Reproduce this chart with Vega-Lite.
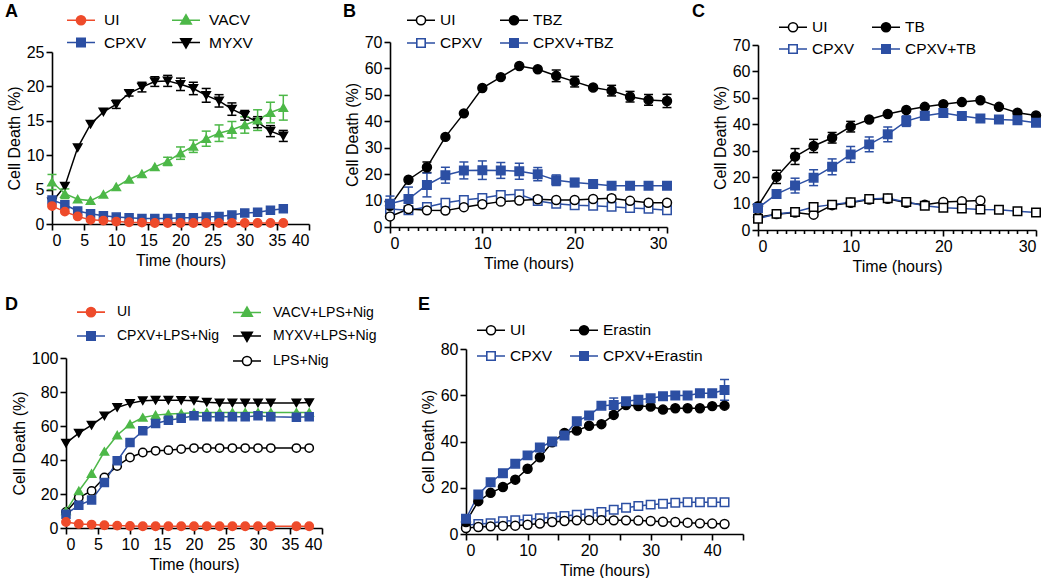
{
  "$schema": "https://vega.github.io/schema/vega-lite/v6.json",
  "padding": {"left": 5, "top": 3, "right": 0, "bottom": 0},
  "config": {
    "font": "Liberation Sans",
    "view": {"stroke": null},
    "axis": {"domainColor": "black", "domainWidth": 1.6, "tickColor": "black", "tickWidth": 1.6, "tickSize": 6, "labelFontSize": 16, "labelColor": "black", "labelFont": "Liberation Sans", "titleFontSize": 16, "titleFontWeight": "normal", "titleColor": "black", "titleFont": "Liberation Sans", "grid": false, "labelPadding": 2, "titlePadding": 4},
    "legend": {"labelFontSize": 15.5, "labelColor": "black", "labelFont": "Liberation Sans", "padding": 0, "symbolStrokeWidth": 1.6, "symbolSize": 196},
    "title": {"fontSize": 18, "fontWeight": "bold", "anchor": "start", "frame": "group", "color": "black", "font": "Liberation Sans"}
  },
  "resolve": {"scale": {"color": "independent", "shape": "independent", "fill": "independent", "stroke": "independent"}, "legend": {"shape": "independent", "fill": "independent", "stroke": "independent"}},
  "spacing": 22,
  "vconcat": [
    {
      "spacing": 17,
      "resolve": {"scale": {"color": "independent", "shape": "independent", "fill": "independent", "stroke": "independent"}, "legend": {"shape": "independent", "fill": "independent", "stroke": "independent"}},
      "hconcat": [
        {
          "title": {"text": "A", "dx": -61, "dy": 9, "offset": 0},
          "width": 260, "height": 182,
          "data": {"values": [
            {"t":0,"g":"MYXV","y":3.2},{"t":2,"g":"MYXV","y":5.5},{"t":4,"g":"MYXV","y":11.1},{"t":6,"g":"MYXV","y":14.5},{"t":8,"g":"MYXV","y":16.3},{"t":10,"g":"MYXV","y":17.4,"lo":16.8,"hi":18.0},{"t":12,"g":"MYXV","y":19.0,"lo":18.6,"hi":19.4},{"t":14,"g":"MYXV","y":19.9,"lo":19.2,"hi":20.6},{"t":16,"g":"MYXV","y":20.7,"lo":20.0,"hi":21.4},{"t":18,"g":"MYXV","y":20.8,"lo":20.0,"hi":21.6},{"t":20,"g":"MYXV","y":20.3,"lo":19.4,"hi":21.2},{"t":22,"g":"MYXV","y":19.7,"lo":18.8,"hi":20.6},{"t":24,"g":"MYXV","y":18.7,"lo":17.7,"hi":19.7},{"t":26,"g":"MYXV","y":17.9,"lo":17.0,"hi":18.8},{"t":28,"g":"MYXV","y":16.7,"lo":15.8,"hi":17.6},{"t":30,"g":"MYXV","y":15.8,"lo":15.1,"hi":16.5},{"t":32,"g":"MYXV","y":14.8,"lo":14.0,"hi":15.6},{"t":34,"g":"MYXV","y":13.5,"lo":12.7,"hi":14.3},{"t":36,"g":"MYXV","y":12.8,"lo":12.0,"hi":13.6},
            {"t":0,"g":"VACV","y":6.1,"lo":5.0,"hi":7.2},{"t":2,"g":"VACV","y":4.4,"lo":3.7,"hi":5.1},{"t":4,"g":"VACV","y":3.6},{"t":6,"g":"VACV","y":3.4},{"t":8,"g":"VACV","y":4.3},{"t":10,"g":"VACV","y":5.4},{"t":12,"g":"VACV","y":6.5},{"t":14,"g":"VACV","y":7.3},{"t":16,"g":"VACV","y":8.3},{"t":18,"g":"VACV","y":9.1,"lo":8.5,"hi":9.7},{"t":20,"g":"VACV","y":10.3,"lo":9.4,"hi":11.2},{"t":22,"g":"VACV","y":11.3,"lo":10.4,"hi":12.2},{"t":24,"g":"VACV","y":12.4,"lo":11.3,"hi":13.5},{"t":26,"g":"VACV","y":13.2,"lo":12.0,"hi":14.4},{"t":28,"g":"VACV","y":13.7,"lo":12.5,"hi":14.9},{"t":30,"g":"VACV","y":14.4,"lo":13.2,"hi":15.6},{"t":32,"g":"VACV","y":15.1,"lo":13.6,"hi":16.6},{"t":34,"g":"VACV","y":16.2,"lo":14.7,"hi":17.7},{"t":36,"g":"VACV","y":16.9,"lo":15.1,"hi":18.7},
            {"t":0,"g":"CPXV","y":3.5},{"t":2,"g":"CPXV","y":2.8},{"t":4,"g":"CPXV","y":1.9},{"t":6,"g":"CPXV","y":1.5},{"t":8,"g":"CPXV","y":1.2},{"t":10,"g":"CPXV","y":1.0},{"t":12,"g":"CPXV","y":0.9},{"t":14,"g":"CPXV","y":0.8},{"t":16,"g":"CPXV","y":0.8},{"t":18,"g":"CPXV","y":0.8},{"t":20,"g":"CPXV","y":0.9},{"t":22,"g":"CPXV","y":0.9},{"t":24,"g":"CPXV","y":1.0},{"t":26,"g":"CPXV","y":1.1},{"t":28,"g":"CPXV","y":1.3},{"t":30,"g":"CPXV","y":1.6},{"t":32,"g":"CPXV","y":1.7},{"t":34,"g":"CPXV","y":2.0},{"t":36,"g":"CPXV","y":2.2},
            {"t":0,"g":"UI","y":2.6},{"t":2,"g":"UI","y":1.8},{"t":4,"g":"UI","y":1.1},{"t":6,"g":"UI","y":0.6},{"t":8,"g":"UI","y":0.5},{"t":10,"g":"UI","y":0.35},{"t":12,"g":"UI","y":0.25},{"t":14,"g":"UI","y":0.2},{"t":16,"g":"UI","y":0.15},{"t":18,"g":"UI","y":0.15},{"t":20,"g":"UI","y":0.15},{"t":22,"g":"UI","y":0.15},{"t":24,"g":"UI","y":0.15},{"t":26,"g":"UI","y":0.15},{"t":28,"g":"UI","y":0.15},{"t":30,"g":"UI","y":0.15},{"t":32,"g":"UI","y":0.15},{"t":34,"g":"UI","y":0.15},{"t":36,"g":"UI","y":0.15}
          ]},
          "encoding": {
            "x": {"field": "t", "type": "quantitative", "scale": {"domain": [0, 40], "range": [-14, 243], "nice": false}, "axis": {"values": [0,5,10,15,20,25,30,35,40], "title": "Time (hours)"}},
            "y": {"field": "y", "type": "quantitative", "scale": {"domain": [0, 25], "range": [182, 10], "nice": false}, "axis": {"values": [0,5,10,15,20,25], "offset": 14, "title": "Cell Death (%)"}}
          },
          "layer": [
            {"mark": {"type": "line", "strokeWidth": 1.5}, "encoding": {"color": {"field": "g", "type": "nominal", "scale": {"domain": ["MYXV","VACV","CPXV","UI"], "range": ["black","#4DB848","#2C4FA3","#EE4B2B"]}, "legend": null}}},
            {"transform": [{"filter": "isValid(datum.lo)"}], "mark": {"type": "rule", "strokeWidth": 1.5}, "encoding": {"y": {"field": "lo", "type": "quantitative", "scale": {"domain": [0, 25], "range": [182, 10], "nice": false}, "axis": {"values": [0,5,10,15,20,25], "offset": 14, "title": "Cell Death (%)"}}, "y2": {"field": "hi"}, "color": {"field": "g", "type": "nominal", "scale": {"domain": ["MYXV","VACV","CPXV","UI"], "range": ["black","#4DB848","#2C4FA3","#EE4B2B"]}, "legend": null}}},
            {"transform": [{"filter": "isValid(datum.lo)"}], "mark": {"type": "tick", "orient": "horizontal", "size": 9, "thickness": 1.5, "opacity": 1}, "encoding": {"y": {"field": "lo", "type": "quantitative", "scale": {"domain": [0, 25], "range": [182, 10], "nice": false}, "axis": {"values": [0,5,10,15,20,25], "offset": 14, "title": "Cell Death (%)"}}, "color": {"field": "g", "type": "nominal", "scale": {"domain": ["MYXV","VACV","CPXV","UI"], "range": ["black","#4DB848","#2C4FA3","#EE4B2B"]}, "legend": null}}},
            {"transform": [{"filter": "isValid(datum.lo)"}], "mark": {"type": "tick", "orient": "horizontal", "size": 9, "thickness": 1.5, "opacity": 1}, "encoding": {"y": {"field": "hi", "type": "quantitative", "scale": {"domain": [0, 25], "range": [182, 10], "nice": false}, "axis": {"values": [0,5,10,15,20,25], "offset": 14, "title": "Cell Death (%)"}}, "color": {"field": "g", "type": "nominal", "scale": {"domain": ["MYXV","VACV","CPXV","UI"], "range": ["black","#4DB848","#2C4FA3","#EE4B2B"]}, "legend": null}}},
            {"transform": [{"filter": "datum.g === 'MYXV'"}], "mark": {"type": "point", "shape": "triangle-down", "filled": true, "fill": "black", "stroke": "black", "size": 70, "strokeWidth": 1.5, "opacity": 1}},
            {"transform": [{"filter": "datum.g === 'VACV'"}], "mark": {"type": "point", "shape": "triangle-up", "filled": true, "fill": "#4DB848", "stroke": "#4DB848", "size": 70, "strokeWidth": 1.5, "opacity": 1}},
            {"transform": [{"filter": "datum.g === 'CPXV'"}], "mark": {"type": "point", "shape": "square", "filled": true, "fill": "#2C4FA3", "stroke": "#2C4FA3", "size": 64, "strokeWidth": 1.5, "opacity": 1}},
            {"transform": [{"filter": "datum.g === 'UI'"}], "mark": {"type": "point", "shape": "circle", "filled": true, "fill": "#EE4B2B", "stroke": "#EE4B2B", "size": 70, "strokeWidth": 1.5, "opacity": 1}},
            {"transform": [{"filter": "false"}], "mark": {"type": "point", "filled": true, "opacity": 1, "strokeWidth": 1.6},
             "encoding": {
               "shape": {"field": "g", "type": "nominal", "scale": {"domain": ["UI","CPXV","VACV","MYXV"], "range": ["M-2,0H-0.65M0.65,0H2M-0.65,0A0.65,0.65,0,1,0,0.65,0A0.65,0.65,0,1,0,-0.65,0Z","M-2,0H-0.6M0.6,0H2M-0.6,-0.6H0.6V0.6H-0.6Z","M-2,0H-0.45M0.45,0H2M0,-0.78L0.75,0.52H-0.75Z","M-2,0H-0.45M0.45,0H2M0,0.78L0.75,-0.52H-0.75Z"]},
                 "legend": {"title": null, "orient": "none", "legendX": 7, "legendY": -30, "columns": 2, "columnPadding": 21, "rowPadding": 5.5, "labelOffset": 15, "symbolSize": 196, "symbolStrokeWidth": 1.6, "symbolOpacity": 1}},
               "fill": {"field": "g", "type": "nominal", "scale": {"domain": ["UI","CPXV","VACV","MYXV"], "range": ["#EE4B2B","#2C4FA3","#4DB848","black"]},
                 "legend": {"title": null, "orient": "none", "legendX": 7, "legendY": -30, "columns": 2, "columnPadding": 21, "rowPadding": 5.5, "labelOffset": 15, "symbolSize": 196, "symbolStrokeWidth": 1.6, "symbolOpacity": 1}},
               "stroke": {"field": "g", "type": "nominal", "scale": {"domain": ["UI","CPXV","VACV","MYXV"], "range": ["#EE4B2B","#2C4FA3","#4DB848","black"]},
                 "legend": {"title": null, "orient": "none", "legendX": 7, "legendY": -30, "columns": 2, "columnPadding": 21, "rowPadding": 5.5, "labelOffset": 15, "symbolSize": 196, "symbolStrokeWidth": 1.6, "symbolOpacity": 1}}
             }}
          ]
        },
        {
          "title": {"text": "B", "dx": -47, "dy": 9, "offset": 0},
          "width": 277, "height": 185,
          "data": {"values": [
            {"t":0,"g":"CPXV","y":6.8},{"t":2,"g":"CPXV","y":6.3},{"t":4,"g":"CPXV","y":7.6},{"t":6,"g":"CPXV","y":9.2},{"t":8,"g":"CPXV","y":10.2},{"t":10,"g":"CPXV","y":11.0},{"t":12,"g":"CPXV","y":12.1},{"t":14,"g":"CPXV","y":12.4},{"t":16,"g":"CPXV","y":9.8},{"t":18,"g":"CPXV","y":8.8},{"t":20,"g":"CPXV","y":8.2},{"t":22,"g":"CPXV","y":8.0},{"t":24,"g":"CPXV","y":7.7},{"t":26,"g":"CPXV","y":7.2},{"t":28,"g":"CPXV","y":6.9},{"t":30,"g":"CPXV","y":6.3},
            {"t":0,"g":"UI","y":4.0},{"t":2,"g":"UI","y":6.8},{"t":4,"g":"UI","y":6.3},{"t":6,"g":"UI","y":6.2},{"t":8,"g":"UI","y":7.5},{"t":10,"g":"UI","y":8.6},{"t":12,"g":"UI","y":9.6},{"t":14,"g":"UI","y":10.0},{"t":16,"g":"UI","y":10.5},{"t":18,"g":"UI","y":10.2},{"t":20,"g":"UI","y":10.2},{"t":22,"g":"UI","y":10.6},{"t":24,"g":"UI","y":10.9,"lo":9.9,"hi":11.9},{"t":26,"g":"UI","y":9.9},{"t":28,"g":"UI","y":9.2},{"t":30,"g":"UI","y":9.2},
            {"t":0,"g":"TBZ","y":8.0},{"t":2,"g":"TBZ","y":17.9},{"t":4,"g":"TBZ","y":22.6,"lo":20.6,"hi":24.6},{"t":6,"g":"TBZ","y":34.1},{"t":8,"g":"TBZ","y":43.0},{"t":10,"g":"TBZ","y":52.6},{"t":12,"g":"TBZ","y":56.7},{"t":14,"g":"TBZ","y":60.9},{"t":16,"g":"TBZ","y":59.7},{"t":18,"g":"TBZ","y":57.2,"lo":55.0,"hi":59.4},{"t":20,"g":"TBZ","y":55.0,"lo":53.0,"hi":57.0},{"t":22,"g":"TBZ","y":52.8},{"t":24,"g":"TBZ","y":51.6,"lo":49.6,"hi":53.6},{"t":26,"g":"TBZ","y":49.3,"lo":47.3,"hi":51.3},{"t":28,"g":"TBZ","y":48.1,"lo":46.1,"hi":50.1},{"t":30,"g":"TBZ","y":47.7,"lo":45.2,"hi":50.2},
            {"t":0,"g":"CPXV+TBZ","y":8.8,"lo":5.9,"hi":11.7},{"t":2,"g":"CPXV+TBZ","y":10.6,"lo":6.1,"hi":15.1},{"t":4,"g":"CPXV+TBZ","y":15.9,"lo":11.4,"hi":20.4},{"t":6,"g":"CPXV+TBZ","y":19.6,"lo":16.6,"hi":22.6},{"t":8,"g":"CPXV+TBZ","y":21.4,"lo":18.2,"hi":24.6},{"t":10,"g":"CPXV+TBZ","y":21.5,"lo":18.0,"hi":25.0},{"t":12,"g":"CPXV+TBZ","y":21.4,"lo":18.4,"hi":24.4},{"t":14,"g":"CPXV+TBZ","y":21.1,"lo":18.1,"hi":24.1},{"t":16,"g":"CPXV+TBZ","y":20.0,"lo":17.5,"hi":22.5},{"t":18,"g":"CPXV+TBZ","y":17.7,"lo":15.7,"hi":19.7},{"t":20,"g":"CPXV+TBZ","y":16.8,"lo":15.3,"hi":18.3},{"t":22,"g":"CPXV+TBZ","y":16.3,"lo":15.3,"hi":17.3},{"t":24,"g":"CPXV+TBZ","y":15.6,"lo":14.6,"hi":16.6},{"t":26,"g":"CPXV+TBZ","y":15.6},{"t":28,"g":"CPXV+TBZ","y":15.6},{"t":30,"g":"CPXV+TBZ","y":15.6}
          ]},
          "encoding": {
            "x": {"field": "t", "type": "quantitative", "scale": {"domain": [0, 30], "nice": false}, "axis": {"values": [0,1,2,3,4,5,6,7,8,9,10,11,12,13,14,15,16,17,18,19,20,21,22,23,24,25,26,27,28,29,30], "labelExpr": "datum.value % 10 === 0 ? datum.label : ''", "tickSize": {"condition": {"test": "datum.value % 10 === 0", "value": 6}, "value": 3.5}, "title": "Time (hours)"}},
            "y": {"field": "y", "type": "quantitative", "scale": {"domain": [0, 70], "nice": false}, "axis": {"values": [0,10,20,30,40,50,60,70], "title": "Cell Death (%)"}}
          },
          "layer": [
            {"mark": {"type": "line", "strokeWidth": 1.5}, "encoding": {"color": {"field": "g", "type": "nominal", "scale": {"domain": ["CPXV+TBZ","TBZ","CPXV","UI"], "range": ["#2C4FA3","black","#2C4FA3","black"]}, "legend": null}}},
            {"transform": [{"filter": "isValid(datum.lo)"}], "mark": {"type": "rule", "strokeWidth": 1.5}, "encoding": {"y": {"field": "lo", "type": "quantitative", "scale": {"domain": [0, 70], "nice": false}, "axis": {"values": [0,10,20,30,40,50,60,70], "title": "Cell Death (%)"}}, "y2": {"field": "hi"}, "color": {"field": "g", "type": "nominal", "scale": {"domain": ["CPXV+TBZ","TBZ","CPXV","UI"], "range": ["#2C4FA3","black","#2C4FA3","black"]}, "legend": null}}},
            {"transform": [{"filter": "isValid(datum.lo)"}], "mark": {"type": "tick", "orient": "horizontal", "size": 9, "thickness": 1.5, "opacity": 1}, "encoding": {"y": {"field": "lo", "type": "quantitative", "scale": {"domain": [0, 70], "nice": false}, "axis": {"values": [0,10,20,30,40,50,60,70], "title": "Cell Death (%)"}}, "color": {"field": "g", "type": "nominal", "scale": {"domain": ["CPXV+TBZ","TBZ","CPXV","UI"], "range": ["#2C4FA3","black","#2C4FA3","black"]}, "legend": null}}},
            {"transform": [{"filter": "isValid(datum.lo)"}], "mark": {"type": "tick", "orient": "horizontal", "size": 9, "thickness": 1.5, "opacity": 1}, "encoding": {"y": {"field": "hi", "type": "quantitative", "scale": {"domain": [0, 70], "nice": false}, "axis": {"values": [0,10,20,30,40,50,60,70], "title": "Cell Death (%)"}}, "color": {"field": "g", "type": "nominal", "scale": {"domain": ["CPXV+TBZ","TBZ","CPXV","UI"], "range": ["#2C4FA3","black","#2C4FA3","black"]}, "legend": null}}},
            {"transform": [{"filter": "datum.g === 'CPXV'"}], "mark": {"type": "point", "shape": "square", "filled": true, "fill": "white", "stroke": "#2C4FA3", "size": 72, "strokeWidth": 1.5, "opacity": 1}},
            {"transform": [{"filter": "datum.g === 'UI'"}], "mark": {"type": "point", "shape": "circle", "filled": true, "fill": "white", "stroke": "black", "size": 80, "strokeWidth": 1.5, "opacity": 1}},
            {"transform": [{"filter": "datum.g === 'TBZ'"}], "mark": {"type": "point", "shape": "circle", "filled": true, "fill": "black", "stroke": "black", "size": 80, "strokeWidth": 1.5, "opacity": 1}},
            {"transform": [{"filter": "datum.g === 'CPXV+TBZ'"}], "mark": {"type": "point", "shape": "square", "filled": true, "fill": "#2C4FA3", "stroke": "#2C4FA3", "size": 72, "strokeWidth": 1.5, "opacity": 1}},
            {"transform": [{"filter": "false"}], "mark": {"type": "point", "filled": true, "opacity": 1, "strokeWidth": 1.6},
             "encoding": {
               "shape": {"field": "g", "type": "nominal", "scale": {"domain": ["UI","CPXV","TBZ","CPXV+TBZ"], "range": ["M-2,0H-0.65M0.65,0H2M-0.65,0A0.65,0.65,0,1,0,0.65,0A0.65,0.65,0,1,0,-0.65,0Z","M-2,0H-0.6M0.6,0H2M-0.6,-0.6H0.6V0.6H-0.6Z","M-2,0H-0.65M0.65,0H2M-0.65,0A0.65,0.65,0,1,0,0.65,0A0.65,0.65,0,1,0,-0.65,0Z","M-2,0H-0.6M0.6,0H2M-0.6,-0.6H0.6V0.6H-0.6Z"]},
                 "legend": {"title": null, "orient": "none", "legendX": 23, "legendY": -30, "columns": 2, "columnPadding": 13, "rowPadding": 6, "labelOffset": 11, "symbolSize": 196, "symbolStrokeWidth": 1.6, "symbolOpacity": 1}},
               "fill": {"field": "g", "type": "nominal", "scale": {"domain": ["UI","CPXV","TBZ","CPXV+TBZ"], "range": ["white","white","black","#2C4FA3"]},
                 "legend": {"title": null, "orient": "none", "legendX": 23, "legendY": -30, "columns": 2, "columnPadding": 13, "rowPadding": 6, "labelOffset": 11, "symbolSize": 196, "symbolStrokeWidth": 1.6, "symbolOpacity": 1}},
               "stroke": {"field": "g", "type": "nominal", "scale": {"domain": ["UI","CPXV","TBZ","CPXV+TBZ"], "range": ["black","#2C4FA3","black","#2C4FA3"]},
                 "legend": {"title": null, "orient": "none", "legendX": 23, "legendY": -30, "columns": 2, "columnPadding": 13, "rowPadding": 6, "labelOffset": 11, "symbolSize": 196, "symbolStrokeWidth": 1.6, "symbolOpacity": 1}}
             }}
          ]
        },
        {
          "title": {"text": "C", "dx": -66, "dy": 2, "offset": 0},
          "width": 278, "height": 188,
          "data": {"values": [
            {"t":0,"g":"UI","y":4.8},{"t":2,"g":"UI","y":6.0},{"t":4,"g":"UI","y":6.6},{"t":6,"g":"UI","y":5.8},{"t":8,"g":"UI","y":9.4},{"t":10,"g":"UI","y":10.3},{"t":12,"g":"UI","y":11.5},{"t":14,"g":"UI","y":11.8},{"t":16,"g":"UI","y":10.3},{"t":18,"g":"UI","y":9.6},{"t":20,"g":"UI","y":10.6},{"t":22,"g":"UI","y":10.9},{"t":24,"g":"UI","y":11.2},
            {"t":0,"g":"CPXV","y":4.3},{"t":2,"g":"CPXV","y":6.1},{"t":4,"g":"CPXV","y":6.8},{"t":6,"g":"CPXV","y":8.7},{"t":8,"g":"CPXV","y":9.6},{"t":10,"g":"CPXV","y":10.5},{"t":12,"g":"CPXV","y":11.7},{"t":14,"g":"CPXV","y":12.0},{"t":16,"g":"CPXV","y":10.6},{"t":18,"g":"CPXV","y":9.2},{"t":20,"g":"CPXV","y":8.4},{"t":22,"g":"CPXV","y":8.1},{"t":24,"g":"CPXV","y":7.8},{"t":26,"g":"CPXV","y":7.7},{"t":28,"g":"CPXV","y":7.1},{"t":30,"g":"CPXV","y":6.6},
            {"t":0,"g":"TB","y":9.0},{"t":2,"g":"TB","y":20.1,"lo":17.6,"hi":22.6},{"t":4,"g":"TB","y":27.8,"lo":24.8,"hi":30.8},{"t":6,"g":"TB","y":31.8,"lo":29.3,"hi":34.3},{"t":8,"g":"TB","y":34.9,"lo":32.9,"hi":36.9},{"t":10,"g":"TB","y":39.1,"lo":37.1,"hi":41.1},{"t":12,"g":"TB","y":41.8},{"t":14,"g":"TB","y":43.9},{"t":16,"g":"TB","y":45.4},{"t":18,"g":"TB","y":46.6},{"t":20,"g":"TB","y":47.6},{"t":22,"g":"TB","y":48.4},{"t":24,"g":"TB","y":49.1},{"t":26,"g":"TB","y":46.6},{"t":28,"g":"TB","y":44.4},{"t":30,"g":"TB","y":43.3},
            {"t":0,"g":"CPXV+TB","y":8.3},{"t":2,"g":"CPXV+TB","y":13.6},{"t":4,"g":"CPXV+TB","y":16.8,"lo":14.0,"hi":19.6},{"t":6,"g":"CPXV+TB","y":19.8,"lo":16.8,"hi":22.8},{"t":8,"g":"CPXV+TB","y":23.9,"lo":20.9,"hi":26.9},{"t":10,"g":"CPXV+TB","y":28.6,"lo":25.6,"hi":31.6},{"t":12,"g":"CPXV+TB","y":32.4,"lo":29.6,"hi":35.2},{"t":14,"g":"CPXV+TB","y":36.2,"lo":33.4,"hi":39.0},{"t":16,"g":"CPXV+TB","y":41.2,"lo":39.2,"hi":43.2},{"t":18,"g":"CPXV+TB","y":43.2,"lo":41.7,"hi":44.7},{"t":20,"g":"CPXV+TB","y":44.3,"lo":42.8,"hi":45.8},{"t":22,"g":"CPXV+TB","y":43.1},{"t":24,"g":"CPXV+TB","y":42.2},{"t":26,"g":"CPXV+TB","y":41.8},{"t":28,"g":"CPXV+TB","y":41.5},{"t":30,"g":"CPXV+TB","y":40.6}
          ]},
          "encoding": {
            "x": {"field": "t", "type": "quantitative", "scale": {"domain": [0, 30], "nice": false}, "axis": {"values": [0,1,2,3,4,5,6,7,8,9,10,11,12,13,14,15,16,17,18,19,20,21,22,23,24,25,26,27,28,29,30], "labelExpr": "datum.value % 10 === 0 ? datum.label : ''", "tickSize": {"condition": {"test": "datum.value % 10 === 0", "value": 6}, "value": 3.5}, "title": "Time (hours)"}},
            "y": {"field": "y", "type": "quantitative", "scale": {"domain": [0, 70], "range": [188, 3], "nice": false}, "axis": {"values": [0,10,20,30,40,50,60,70], "title": "Cell Death (%)"}}
          },
          "layer": [
            {"mark": {"type": "line", "strokeWidth": 1.5}, "encoding": {"color": {"field": "g", "type": "nominal", "scale": {"domain": ["CPXV+TB","TB","CPXV","UI"], "range": ["#2C4FA3","black","#2C4FA3","black"]}, "legend": null}}},
            {"transform": [{"filter": "isValid(datum.lo)"}], "mark": {"type": "rule", "strokeWidth": 1.5}, "encoding": {"y": {"field": "lo", "type": "quantitative", "scale": {"domain": [0, 70], "range": [188, 3], "nice": false}, "axis": {"values": [0,10,20,30,40,50,60,70], "title": "Cell Death (%)"}}, "y2": {"field": "hi"}, "color": {"field": "g", "type": "nominal", "scale": {"domain": ["CPXV+TB","TB","CPXV","UI"], "range": ["#2C4FA3","black","#2C4FA3","black"]}, "legend": null}}},
            {"transform": [{"filter": "isValid(datum.lo)"}], "mark": {"type": "tick", "orient": "horizontal", "size": 9, "thickness": 1.5, "opacity": 1}, "encoding": {"y": {"field": "lo", "type": "quantitative", "scale": {"domain": [0, 70], "range": [188, 3], "nice": false}, "axis": {"values": [0,10,20,30,40,50,60,70], "title": "Cell Death (%)"}}, "color": {"field": "g", "type": "nominal", "scale": {"domain": ["CPXV+TB","TB","CPXV","UI"], "range": ["#2C4FA3","black","#2C4FA3","black"]}, "legend": null}}},
            {"transform": [{"filter": "isValid(datum.lo)"}], "mark": {"type": "tick", "orient": "horizontal", "size": 9, "thickness": 1.5, "opacity": 1}, "encoding": {"y": {"field": "hi", "type": "quantitative", "scale": {"domain": [0, 70], "range": [188, 3], "nice": false}, "axis": {"values": [0,10,20,30,40,50,60,70], "title": "Cell Death (%)"}}, "color": {"field": "g", "type": "nominal", "scale": {"domain": ["CPXV+TB","TB","CPXV","UI"], "range": ["#2C4FA3","black","#2C4FA3","black"]}, "legend": null}}},
            {"transform": [{"filter": "datum.g === 'UI'"}], "mark": {"type": "point", "shape": "circle", "filled": true, "fill": "white", "stroke": "black", "size": 80, "strokeWidth": 1.5, "opacity": 1}},
            {"transform": [{"filter": "datum.g === 'CPXV'"}], "mark": {"type": "point", "shape": "square", "filled": true, "fill": "white", "stroke": "black", "size": 72, "strokeWidth": 1.5, "opacity": 1}},
            {"transform": [{"filter": "datum.g === 'TB'"}], "mark": {"type": "point", "shape": "circle", "filled": true, "fill": "black", "stroke": "black", "size": 80, "strokeWidth": 1.5, "opacity": 1}},
            {"transform": [{"filter": "datum.g === 'CPXV+TB'"}], "mark": {"type": "point", "shape": "square", "filled": true, "fill": "#2C4FA3", "stroke": "#2C4FA3", "size": 72, "strokeWidth": 1.5, "opacity": 1}},
            {"transform": [{"filter": "false"}], "mark": {"type": "point", "filled": true, "opacity": 1, "strokeWidth": 1.6},
             "encoding": {
               "shape": {"field": "g", "type": "nominal", "scale": {"domain": ["UI","CPXV","TB","CPXV+TB"], "range": ["M-2,0H-0.65M0.65,0H2M-0.65,0A0.65,0.65,0,1,0,0.65,0A0.65,0.65,0,1,0,-0.65,0Z","M-2,0H-0.6M0.6,0H2M-0.6,-0.6H0.6V0.6H-0.6Z","M-2,0H-0.65M0.65,0H2M-0.65,0A0.65,0.65,0,1,0,0.65,0A0.65,0.65,0,1,0,-0.65,0Z","M-2,0H-0.6M0.6,0H2M-0.6,-0.6H0.6V0.6H-0.6Z"]},
                 "legend": {"title": null, "orient": "none", "legendX": 27, "legendY": -23, "columns": 2, "columnPadding": 13, "rowPadding": 5, "labelOffset": 11, "symbolSize": 196, "symbolStrokeWidth": 1.6, "symbolOpacity": 1}},
               "fill": {"field": "g", "type": "nominal", "scale": {"domain": ["UI","CPXV","TB","CPXV+TB"], "range": ["white","white","black","#2C4FA3"]},
                 "legend": {"title": null, "orient": "none", "legendX": 27, "legendY": -23, "columns": 2, "columnPadding": 13, "rowPadding": 5, "labelOffset": 11, "symbolSize": 196, "symbolStrokeWidth": 1.6, "symbolOpacity": 1}},
               "stroke": {"field": "g", "type": "nominal", "scale": {"domain": ["UI","CPXV","TB","CPXV+TB"], "range": ["black","#2C4FA3","black","#2C4FA3"]},
                 "legend": {"title": null, "orient": "none", "legendX": 27, "legendY": -23, "columns": 2, "columnPadding": 13, "rowPadding": 5, "labelOffset": 11, "symbolSize": 196, "symbolStrokeWidth": 1.6, "symbolOpacity": 1}}
             }}
          ]
        }
      ]
    },
    {
      "spacing": 41,
      "resolve": {"scale": {"color": "independent", "shape": "independent", "fill": "independent", "stroke": "independent"}, "legend": {"shape": "independent", "fill": "independent", "stroke": "independent"}},
      "hconcat": [
        {
          "title": {"text": "D", "dx": -61, "dy": 10, "offset": 0},
          "width": 256, "height": 179,
          "data": {"values": [
            {"t":0,"g":"LPS+Nig","y":9.4},{"t":2,"g":"LPS+Nig","y":17.9},{"t":4,"g":"LPS+Nig","y":21.8},{"t":6,"g":"LPS+Nig","y":29.7},{"t":8,"g":"LPS+Nig","y":36.5},{"t":10,"g":"LPS+Nig","y":41.5},{"t":12,"g":"LPS+Nig","y":44.4},{"t":14,"g":"LPS+Nig","y":45.4},{"t":16,"g":"LPS+Nig","y":45.8},{"t":18,"g":"LPS+Nig","y":46.4},{"t":20,"g":"LPS+Nig","y":47.0},{"t":22,"g":"LPS+Nig","y":47.0},{"t":24,"g":"LPS+Nig","y":47.0},{"t":26,"g":"LPS+Nig","y":47.0},{"t":28,"g":"LPS+Nig","y":47.0},{"t":30,"g":"LPS+Nig","y":47.0},{"t":32,"g":"LPS+Nig","y":47.0},{"t":36,"g":"LPS+Nig","y":47.0},{"t":38,"g":"LPS+Nig","y":47.0},
            {"t":0,"g":"MYXV+LPS+Nig","y":49.9},{"t":2,"g":"MYXV+LPS+Nig","y":55.8},{"t":4,"g":"MYXV+LPS+Nig","y":60.5},{"t":6,"g":"MYXV+LPS+Nig","y":66.0},{"t":8,"g":"MYXV+LPS+Nig","y":70.9},{"t":10,"g":"MYXV+LPS+Nig","y":73.3},{"t":12,"g":"MYXV+LPS+Nig","y":74.9},{"t":14,"g":"MYXV+LPS+Nig","y":75.2},{"t":16,"g":"MYXV+LPS+Nig","y":75.2},{"t":18,"g":"MYXV+LPS+Nig","y":75.1},{"t":20,"g":"MYXV+LPS+Nig","y":74.9},{"t":22,"g":"MYXV+LPS+Nig","y":74.0},{"t":24,"g":"MYXV+LPS+Nig","y":73.6},{"t":26,"g":"MYXV+LPS+Nig","y":73.6},{"t":28,"g":"MYXV+LPS+Nig","y":73.6},{"t":30,"g":"MYXV+LPS+Nig","y":73.6},{"t":32,"g":"MYXV+LPS+Nig","y":73.6},{"t":36,"g":"MYXV+LPS+Nig","y":73.6},{"t":38,"g":"MYXV+LPS+Nig","y":73.8},
            {"t":0,"g":"VACV+LPS+Nig","y":10.0},{"t":2,"g":"VACV+LPS+Nig","y":21.8},{"t":4,"g":"VACV+LPS+Nig","y":32.0},{"t":6,"g":"VACV+LPS+Nig","y":45.0},{"t":8,"g":"VACV+LPS+Nig","y":54.6},{"t":10,"g":"VACV+LPS+Nig","y":61.1},{"t":12,"g":"VACV+LPS+Nig","y":65.0},{"t":14,"g":"VACV+LPS+Nig","y":66.4},{"t":16,"g":"VACV+LPS+Nig","y":67.0},{"t":18,"g":"VACV+LPS+Nig","y":67.4},{"t":20,"g":"VACV+LPS+Nig","y":67.8},{"t":22,"g":"VACV+LPS+Nig","y":68.0},{"t":24,"g":"VACV+LPS+Nig","y":68.0},{"t":26,"g":"VACV+LPS+Nig","y":68.0},{"t":28,"g":"VACV+LPS+Nig","y":68.0},{"t":30,"g":"VACV+LPS+Nig","y":68.0},{"t":32,"g":"VACV+LPS+Nig","y":68.0},{"t":36,"g":"VACV+LPS+Nig","y":68.0},{"t":38,"g":"VACV+LPS+Nig","y":68.0},
            {"t":0,"g":"CPXV+LPS+Nig","y":8.1},{"t":2,"g":"CPXV+LPS+Nig","y":13.4},{"t":4,"g":"CPXV+LPS+Nig","y":16.5},{"t":6,"g":"CPXV+LPS+Nig","y":26.7},{"t":8,"g":"CPXV+LPS+Nig","y":39.5},{"t":10,"g":"CPXV+LPS+Nig","y":50.3},{"t":12,"g":"CPXV+LPS+Nig","y":57.2},{"t":14,"g":"CPXV+LPS+Nig","y":61.5},{"t":16,"g":"CPXV+LPS+Nig","y":63.4},{"t":18,"g":"CPXV+LPS+Nig","y":64.6},{"t":20,"g":"CPXV+LPS+Nig","y":66.0},{"t":22,"g":"CPXV+LPS+Nig","y":65.4},{"t":24,"g":"CPXV+LPS+Nig","y":65.4},{"t":26,"g":"CPXV+LPS+Nig","y":65.4},{"t":28,"g":"CPXV+LPS+Nig","y":65.4},{"t":30,"g":"CPXV+LPS+Nig","y":66.0},{"t":32,"g":"CPXV+LPS+Nig","y":65.4},{"t":36,"g":"CPXV+LPS+Nig","y":65.2},{"t":38,"g":"CPXV+LPS+Nig","y":65.4},
            {"t":0,"g":"UI","y":3.5},{"t":2,"g":"UI","y":2.4},{"t":4,"g":"UI","y":2.0},{"t":6,"g":"UI","y":1.6},{"t":8,"g":"UI","y":1.4},{"t":10,"g":"UI","y":1.2},{"t":12,"g":"UI","y":1.0},{"t":14,"g":"UI","y":1.0},{"t":16,"g":"UI","y":1.0},{"t":18,"g":"UI","y":1.0},{"t":20,"g":"UI","y":1.0},{"t":22,"g":"UI","y":1.0},{"t":24,"g":"UI","y":1.0},{"t":26,"g":"UI","y":1.0},{"t":28,"g":"UI","y":1.0},{"t":30,"g":"UI","y":1.0},{"t":32,"g":"UI","y":1.0},{"t":36,"g":"UI","y":1.0},{"t":38,"g":"UI","y":1.0}
          ]},
          "encoding": {
            "x": {"field": "t", "type": "quantitative", "scale": {"domain": [0, 40], "nice": false}, "axis": {"values": [0,5,10,15,20,25,30,35,40], "title": "Time (hours)"}},
            "y": {"field": "y", "type": "quantitative", "scale": {"domain": [0, 100], "range": [179, 9], "nice": false}, "axis": {"values": [0,20,40,60,80,100], "title": "Cell Death (%)"}}
          },
          "layer": [
            {"mark": {"type": "line", "strokeWidth": 1.5}, "encoding": {"color": {"field": "g", "type": "nominal", "scale": {"domain": ["LPS+Nig","MYXV+LPS+Nig","VACV+LPS+Nig","CPXV+LPS+Nig","UI"], "range": ["black","black","#4DB848","#2C4FA3","#EE4B2B"]}, "legend": null}}},
            {"transform": [{"filter": "datum.g === 'LPS+Nig'"}], "mark": {"type": "point", "shape": "circle", "filled": true, "fill": "white", "stroke": "black", "size": 70, "strokeWidth": 1.5, "opacity": 1}},
            {"transform": [{"filter": "datum.g === 'MYXV+LPS+Nig'"}], "mark": {"type": "point", "shape": "triangle-down", "filled": true, "fill": "black", "stroke": "black", "size": 70, "strokeWidth": 1.5, "opacity": 1}},
            {"transform": [{"filter": "datum.g === 'VACV+LPS+Nig'"}], "mark": {"type": "point", "shape": "triangle-up", "filled": true, "fill": "#4DB848", "stroke": "#4DB848", "size": 70, "strokeWidth": 1.5, "opacity": 1}},
            {"transform": [{"filter": "datum.g === 'CPXV+LPS+Nig'"}], "mark": {"type": "point", "shape": "square", "filled": true, "fill": "#2C4FA3", "stroke": "#2C4FA3", "size": 64, "strokeWidth": 1.5, "opacity": 1}},
            {"transform": [{"filter": "datum.g === 'UI'"}], "mark": {"type": "point", "shape": "circle", "filled": true, "fill": "#EE4B2B", "stroke": "#EE4B2B", "size": 70, "strokeWidth": 1.5, "opacity": 1}},
            {"transform": [{"filter": "false"}], "mark": {"type": "point", "filled": true, "opacity": 1, "strokeWidth": 1.6},
             "encoding": {
               "shape": {"field": "g", "type": "nominal", "scale": {"domain": ["UI","CPXV+LPS+Nig"," ","VACV+LPS+Nig","MYXV+LPS+Nig","LPS+Nig"], "range": ["M-2,0H-0.65M0.65,0H2M-0.65,0A0.65,0.65,0,1,0,0.65,0A0.65,0.65,0,1,0,-0.65,0Z","M-2,0H-0.6M0.6,0H2M-0.6,-0.6H0.6V0.6H-0.6Z","M0,0","M-2,0H-0.45M0.45,0H2M0,-0.78L0.75,0.52H-0.75Z","M-2,0H-0.45M0.45,0H2M0,0.78L0.75,-0.52H-0.75Z","M-2,0H-0.65M0.65,0H2M-0.65,0A0.65,0.65,0,1,0,0.65,0A0.65,0.65,0,1,0,-0.65,0Z"]},
                 "legend": {"title": null, "orient": "none", "legendX": 17, "legendY": -45, "columns": 2, "columnPadding": 10, "rowPadding": 8, "labelOffset": 18, "labelFontSize": 14, "symbolSize": 196, "symbolStrokeWidth": 1.6, "symbolOpacity": 1}},
               "fill": {"field": "g", "type": "nominal", "scale": {"domain": ["UI","CPXV+LPS+Nig"," ","VACV+LPS+Nig","MYXV+LPS+Nig","LPS+Nig"], "range": ["#EE4B2B","#2C4FA3","transparent","#4DB848","black","white"]},
                 "legend": {"title": null, "orient": "none", "legendX": 17, "legendY": -45, "columns": 2, "columnPadding": 10, "rowPadding": 8, "labelOffset": 18, "labelFontSize": 14, "symbolSize": 196, "symbolStrokeWidth": 1.6, "symbolOpacity": 1}},
               "stroke": {"field": "g", "type": "nominal", "scale": {"domain": ["UI","CPXV+LPS+Nig"," ","VACV+LPS+Nig","MYXV+LPS+Nig","LPS+Nig"], "range": ["#EE4B2B","#2C4FA3","transparent","#4DB848","black","black"]},
                 "legend": {"title": null, "orient": "none", "legendX": 17, "legendY": -45, "columns": 2, "columnPadding": 10, "rowPadding": 8, "labelOffset": 18, "labelFontSize": 14, "symbolSize": 196, "symbolStrokeWidth": 1.6, "symbolOpacity": 1}}
             }}
          ]
        },
        {
          "title": {"text": "E", "dx": -48, "dy": -8, "offset": 0},
          "width": 277, "height": 185,
          "data": {"values": [
            {"t":0,"g":"CPXV","y":3.8},{"t":2,"g":"CPXV","y":4.3},{"t":4,"g":"CPXV","y":4.7},{"t":6,"g":"CPXV","y":5.5},{"t":8,"g":"CPXV","y":5.9},{"t":10,"g":"CPXV","y":6.3},{"t":12,"g":"CPXV","y":6.8},{"t":14,"g":"CPXV","y":7.3},{"t":16,"g":"CPXV","y":7.8},{"t":18,"g":"CPXV","y":8.3},{"t":20,"g":"CPXV","y":8.8},{"t":22,"g":"CPXV","y":9.5},{"t":24,"g":"CPXV","y":10.5},{"t":26,"g":"CPXV","y":11.4},{"t":28,"g":"CPXV","y":12.1},{"t":30,"g":"CPXV","y":12.7},{"t":32,"g":"CPXV","y":13.1},{"t":34,"g":"CPXV","y":13.5},{"t":36,"g":"CPXV","y":13.7},{"t":38,"g":"CPXV","y":13.7},{"t":40,"g":"CPXV","y":13.7},{"t":42,"g":"CPXV","y":13.7},
            {"t":0,"g":"UI","y":2.6},{"t":2,"g":"UI","y":3.0},{"t":4,"g":"UI","y":3.3},{"t":6,"g":"UI","y":3.5},{"t":8,"g":"UI","y":3.6},{"t":10,"g":"UI","y":4.0},{"t":12,"g":"UI","y":4.5},{"t":14,"g":"UI","y":5.2},{"t":16,"g":"UI","y":5.6},{"t":18,"g":"UI","y":5.9},{"t":20,"g":"UI","y":6.0},{"t":22,"g":"UI","y":6.0},{"t":24,"g":"UI","y":5.9},{"t":26,"g":"UI","y":5.9},{"t":28,"g":"UI","y":5.8},{"t":30,"g":"UI","y":5.6},{"t":32,"g":"UI","y":5.3},{"t":34,"g":"UI","y":5.2},{"t":36,"g":"UI","y":4.9},{"t":38,"g":"UI","y":4.6},{"t":40,"g":"UI","y":4.5},{"t":42,"g":"UI","y":4.3},
            {"t":0,"g":"Erastin","y":5.2},{"t":2,"g":"Erastin","y":14.2},{"t":4,"g":"Erastin","y":17.8},{"t":6,"g":"Erastin","y":20.3},{"t":8,"g":"Erastin","y":23.5},{"t":10,"g":"Erastin","y":28.2},{"t":12,"g":"Erastin","y":33.2},{"t":14,"g":"Erastin","y":39.7},{"t":16,"g":"Erastin","y":43.7},{"t":18,"g":"Erastin","y":44.7},{"t":20,"g":"Erastin","y":46.8},{"t":22,"g":"Erastin","y":47.5},{"t":24,"g":"Erastin","y":51.5},{"t":26,"g":"Erastin","y":55.8},{"t":28,"g":"Erastin","y":55.3},{"t":30,"g":"Erastin","y":55.1},{"t":32,"g":"Erastin","y":53.8},{"t":34,"g":"Erastin","y":54.4},{"t":36,"g":"Erastin","y":54.4},{"t":38,"g":"Erastin","y":54.4},{"t":40,"g":"Erastin","y":55.3},{"t":42,"g":"Erastin","y":55.5},
            {"t":0,"g":"CPXV+Erastin","y":6.6},{"t":2,"g":"CPXV+Erastin","y":17.1},{"t":4,"g":"CPXV+Erastin","y":22.4},{"t":6,"g":"CPXV+Erastin","y":26.3},{"t":8,"g":"CPXV+Erastin","y":30.4},{"t":10,"g":"CPXV+Erastin","y":34.0},{"t":12,"g":"CPXV+Erastin","y":37.4},{"t":14,"g":"CPXV+Erastin","y":40.0},{"t":16,"g":"CPXV+Erastin","y":42.6},{"t":18,"g":"CPXV+Erastin","y":48.8},{"t":20,"g":"CPXV+Erastin","y":51.2},{"t":22,"g":"CPXV+Erastin","y":55.5},{"t":24,"g":"CPXV+Erastin","y":55.8,"lo":52.8,"hi":58.8},{"t":26,"g":"CPXV+Erastin","y":57.4},{"t":28,"g":"CPXV+Erastin","y":58.1},{"t":30,"g":"CPXV+Erastin","y":58.7},{"t":32,"g":"CPXV+Erastin","y":59.6},{"t":34,"g":"CPXV+Erastin","y":59.9},{"t":36,"g":"CPXV+Erastin","y":59.9},{"t":38,"g":"CPXV+Erastin","y":60.9},{"t":40,"g":"CPXV+Erastin","y":60.9},{"t":42,"g":"CPXV+Erastin","y":62.3,"lo":57.8,"hi":66.8}
          ]},
          "encoding": {
            "x": {"field": "t", "type": "quantitative", "scale": {"domain": [0, 45], "nice": false}, "axis": {"values": [0,5,10,15,20,25,30,35,40,45], "labelExpr": "datum.value % 10 === 0 ? datum.label : ''", "title": "Time (hours)"}},
            "y": {"field": "y", "type": "quantitative", "scale": {"domain": [0, 80], "nice": false}, "axis": {"values": [0,20,40,60,80], "title": "Cell Death (%)"}}
          },
          "layer": [
            {"mark": {"type": "line", "strokeWidth": 1.5}, "encoding": {"color": {"field": "g", "type": "nominal", "scale": {"domain": ["CPXV+Erastin","Erastin","CPXV","UI"], "range": ["#2C4FA3","black","#2C4FA3","black"]}, "legend": null}}},
            {"transform": [{"filter": "isValid(datum.lo)"}], "mark": {"type": "rule", "strokeWidth": 1.5}, "encoding": {"y": {"field": "lo", "type": "quantitative", "scale": {"domain": [0, 80], "nice": false}, "axis": {"values": [0,20,40,60,80], "title": "Cell Death (%)"}}, "y2": {"field": "hi"}, "color": {"field": "g", "type": "nominal", "scale": {"domain": ["CPXV+Erastin","Erastin","CPXV","UI"], "range": ["#2C4FA3","black","#2C4FA3","black"]}, "legend": null}}},
            {"transform": [{"filter": "isValid(datum.lo)"}], "mark": {"type": "tick", "orient": "horizontal", "size": 9, "thickness": 1.5, "opacity": 1}, "encoding": {"y": {"field": "lo", "type": "quantitative", "scale": {"domain": [0, 80], "nice": false}, "axis": {"values": [0,20,40,60,80], "title": "Cell Death (%)"}}, "color": {"field": "g", "type": "nominal", "scale": {"domain": ["CPXV+Erastin","Erastin","CPXV","UI"], "range": ["#2C4FA3","black","#2C4FA3","black"]}, "legend": null}}},
            {"transform": [{"filter": "isValid(datum.lo)"}], "mark": {"type": "tick", "orient": "horizontal", "size": 9, "thickness": 1.5, "opacity": 1}, "encoding": {"y": {"field": "hi", "type": "quantitative", "scale": {"domain": [0, 80], "nice": false}, "axis": {"values": [0,20,40,60,80], "title": "Cell Death (%)"}}, "color": {"field": "g", "type": "nominal", "scale": {"domain": ["CPXV+Erastin","Erastin","CPXV","UI"], "range": ["#2C4FA3","black","#2C4FA3","black"]}, "legend": null}}},
            {"transform": [{"filter": "datum.g === 'CPXV'"}], "mark": {"type": "point", "shape": "square", "filled": true, "fill": "white", "stroke": "#2C4FA3", "size": 72, "strokeWidth": 1.5, "opacity": 1}},
            {"transform": [{"filter": "datum.g === 'UI'"}], "mark": {"type": "point", "shape": "circle", "filled": true, "fill": "white", "stroke": "black", "size": 80, "strokeWidth": 1.5, "opacity": 1}},
            {"transform": [{"filter": "datum.g === 'Erastin'"}], "mark": {"type": "point", "shape": "circle", "filled": true, "fill": "black", "stroke": "black", "size": 80, "strokeWidth": 1.5, "opacity": 1}},
            {"transform": [{"filter": "datum.g === 'CPXV+Erastin'"}], "mark": {"type": "point", "shape": "square", "filled": true, "fill": "#2C4FA3", "stroke": "#2C4FA3", "size": 72, "strokeWidth": 1.5, "opacity": 1}},
            {"transform": [{"filter": "false"}], "mark": {"type": "point", "filled": true, "opacity": 1, "strokeWidth": 1.6},
             "encoding": {
               "shape": {"field": "g", "type": "nominal", "scale": {"domain": ["UI","CPXV","Erastin","CPXV+Erastin"], "range": ["M-2,0H-0.65M0.65,0H2M-0.65,0A0.65,0.65,0,1,0,0.65,0A0.65,0.65,0,1,0,-0.65,0Z","M-2,0H-0.6M0.6,0H2M-0.6,-0.6H0.6V0.6H-0.6Z","M-2,0H-0.65M0.65,0H2M-0.65,0A0.65,0.65,0,1,0,0.65,0A0.65,0.65,0,1,0,-0.65,0Z","M-2,0H-0.6M0.6,0H2M-0.6,-0.6H0.6V0.6H-0.6Z"]},
                 "legend": {"title": null, "orient": "none", "legendX": 17, "legendY": -27, "columns": 2, "columnPadding": 13, "rowPadding": 9, "labelOffset": 11, "symbolSize": 196, "symbolStrokeWidth": 1.6, "symbolOpacity": 1}},
               "fill": {"field": "g", "type": "nominal", "scale": {"domain": ["UI","CPXV","Erastin","CPXV+Erastin"], "range": ["white","white","black","#2C4FA3"]},
                 "legend": {"title": null, "orient": "none", "legendX": 17, "legendY": -27, "columns": 2, "columnPadding": 13, "rowPadding": 9, "labelOffset": 11, "symbolSize": 196, "symbolStrokeWidth": 1.6, "symbolOpacity": 1}},
               "stroke": {"field": "g", "type": "nominal", "scale": {"domain": ["UI","CPXV","Erastin","CPXV+Erastin"], "range": ["black","#2C4FA3","black","#2C4FA3"]},
                 "legend": {"title": null, "orient": "none", "legendX": 17, "legendY": -27, "columns": 2, "columnPadding": 13, "rowPadding": 9, "labelOffset": 11, "symbolSize": 196, "symbolStrokeWidth": 1.6, "symbolOpacity": 1}}
             }}
          ]
        }
      ]
    }
  ]
}
